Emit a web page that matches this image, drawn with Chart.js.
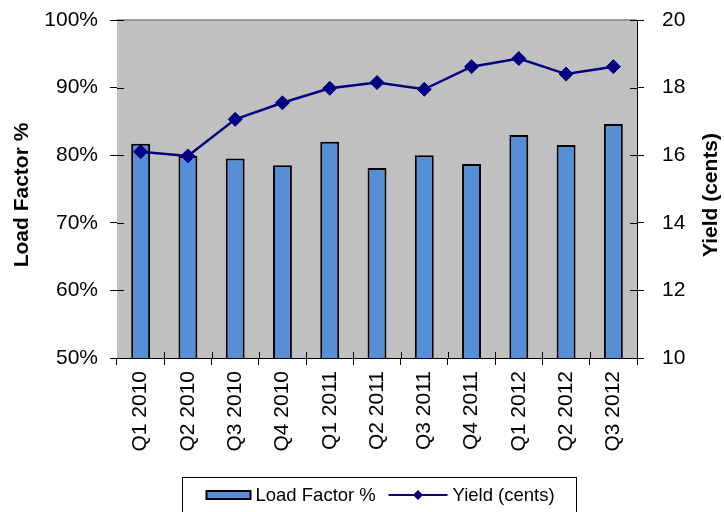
<!DOCTYPE html>
<html>
<head>
<meta charset="utf-8">
<script src="https://cdn.jsdelivr.net/npm/chart.js@4"></script>
<style>
  html, body { margin: 0; padding: 0; background: #fff; }
  #wrap { width: 724px; height: 512px; position: relative; }
</style>
</head>
<body>
<div id="wrap"><canvas id="chart" width="724" height="512"></canvas></div>
<script>
const quarters = ['Q1 2010', 'Q2 2010', 'Q3 2010', 'Q4 2010', 'Q1 2011', 'Q2 2011',
                  'Q3 2011', 'Q4 2011', 'Q1 2012', 'Q2 2012', 'Q3 2012'];
const loadFactor = [81.7, 79.9, 79.5, 78.5, 82.0, 78.1, 80.0, 78.7, 83.0, 81.5, 84.6];
const yieldCents = [16.1, 15.98, 17.06, 17.55, 17.98, 18.15, 17.95, 18.62, 18.86, 18.4, 18.62];

const FONT = '"Liberation Sans", Arial, sans-serif';
const BAR_COLOR = '#568fd6';
const LINE_COLOR = '#000080';

// grey plot area, gray top edge and the inner half of every tick mark
const plotFrame = {
  id: 'plotFrame',
  beforeDatasetsDraw(chart) {
    const { ctx, chartArea: a } = chart;
    ctx.save();
    ctx.fillStyle = '#c0c0c0';
    ctx.fillRect(a.left, a.top, a.right - a.left, a.bottom - a.top);
    ctx.strokeStyle = '#808080';
    ctx.lineWidth = 1.5;
    ctx.beginPath();
    ctx.moveTo(a.left, a.top);
    ctx.lineTo(a.right, a.top);
    ctx.stroke();
    ctx.restore();
  },
  afterDatasetsDraw(chart) {
    const { ctx, chartArea: a, scales } = chart;
    ctx.save();
    ctx.strokeStyle = '#000';
    ctx.lineWidth = 1;
    ctx.beginPath();
    scales.y.ticks.forEach(t => {
      const y = Math.round(scales.y.getPixelForValue(t.value)) + 0.5;
      ctx.moveTo(a.left, y); ctx.lineTo(a.left + 7, y);
    });
    scales.y1.ticks.forEach(t => {
      const y = Math.round(scales.y1.getPixelForValue(t.value)) + 0.5;
      ctx.moveTo(a.right - 7, y); ctx.lineTo(a.right, y);
    });
    const n = quarters.length;
    for (let i = 1; i < n; i++) {
      const x = Math.round((scales.x.getPixelForValue(i - 1) + scales.x.getPixelForValue(i)) / 2) + 0.5;
      ctx.moveTo(x, a.bottom - 6); ctx.lineTo(x, a.bottom);
    }
    ctx.stroke();
    ctx.restore();
  }
};

// both axis titles read bottom-up, plus the boxed legend under the labels
const decorations = {
  id: 'decorations',
  afterDraw(chart) {
    const { ctx, chartArea: a } = chart;
    const midY = (a.top + a.bottom) / 2 + 6;
    ctx.save();
    ctx.fillStyle = '#000';
    ctx.font = 'bold 21px ' + FONT;
    ctx.textAlign = 'center';
    ctx.textBaseline = 'middle';
    [[22, 'Load Factor %'], [711, 'Yield (cents)']].forEach(([x, text]) => {
      ctx.save();
      ctx.translate(x, midY);
      ctx.rotate(-Math.PI / 2);
      ctx.fillText(text, 0, 0);
      ctx.restore();
    });

    // legend box
    const bx = 182.5, by = 477.5, bw = 394, bh = 50;
    ctx.strokeStyle = '#000';
    ctx.lineWidth = 1;
    ctx.strokeRect(bx, by, bw, bh);

    const cy = 495;
    const bar = chart.data.datasets[1];
    const line = chart.data.datasets[0];
    ctx.fillStyle = bar.backgroundColor;
    ctx.fillRect(bx + 24, cy - 4, 44, 8);
    ctx.lineWidth = 2;
    ctx.strokeRect(bx + 24, cy - 4, 44, 8);

    ctx.font = '18.5px ' + FONT;
    ctx.textAlign = 'left';
    ctx.fillStyle = '#000';
    ctx.fillText(bar.label, bx + 73, cy + 1);

    ctx.strokeStyle = line.borderColor;
    ctx.lineWidth = 2;
    ctx.beginPath();
    ctx.moveTo(bx + 206, cy); ctx.lineTo(bx + 265, cy);
    ctx.stroke();
    ctx.fillStyle = line.borderColor;
    ctx.beginPath();
    ctx.moveTo(bx + 235.5, cy - 5); ctx.lineTo(bx + 240.5, cy);
    ctx.lineTo(bx + 235.5, cy + 5); ctx.lineTo(bx + 230.5, cy);
    ctx.closePath();
    ctx.fill();

    ctx.fillStyle = '#000';
    ctx.fillText(line.label, bx + 270, cy + 1);
    ctx.restore();
  }
};

const tickFont = { family: FONT, size: 21 };

// fixed axis box sizes so the plot area lands at the same place every time
function fixWidth(w) {
  return s => { s.width = w; s.paddingTop = 0; s.paddingBottom = 0; };
}

new Chart(document.getElementById('chart'), {
  data: {
    labels: quarters,
    datasets: [
      {
        type: 'line',
        label: 'Yield (cents)',
        data: yieldCents,
        yAxisID: 'y1',
        order: 0,
        borderColor: LINE_COLOR,
        backgroundColor: LINE_COLOR,
        borderWidth: 2.5,
        pointStyle: 'rectRot',
        pointRadius: 7,
        pointHoverRadius: 7,
        pointBorderWidth: 1,
        tension: 0
      },
      {
        type: 'bar',
        label: 'Load Factor %',
        data: loadFactor,
        yAxisID: 'y',
        order: 1,
        backgroundColor: BAR_COLOR,
        borderColor: '#000',
        borderWidth: 2,
        borderSkipped: false,
        barPercentage: 0.4,
        categoryPercentage: 1.0
      }
    ]
  },
  options: {
    responsive: false,
    animation: false,
    layout: { padding: { top: 20, bottom: 0, left: 0, right: 0 } },
    plugins: {
      legend: { display: false },
      tooltip: { enabled: false }
    },
    scales: {
      x: {
        offset: true,
        grid: { offset: true, drawOnChartArea: false, tickLength: 7, color: '#000' },
        border: { color: '#000', width: 1 },
        ticks: { font: tickFont, color: '#000', minRotation: 90, maxRotation: 90, padding: 6, autoSkip: false },
        afterFit(s) { s.height = 154; s.paddingLeft = 0; s.paddingRight = 0; }
      },
      y: {
        position: 'left',
        min: 50,
        max: 100,
        grid: { drawOnChartArea: false, tickLength: 7, color: '#000' },
        border: { color: '#000', width: 1 },
        ticks: { stepSize: 10, font: tickFont, color: '#000', padding: 12, callback: v => v + '%' },
        afterFit: fixWidth(117)
      },
      y1: {
        position: 'right',
        min: 10,
        max: 20,
        grid: { drawOnChartArea: false, tickLength: 7, color: '#000' },
        border: { color: '#000', width: 1 },
        ticks: { stepSize: 2, font: tickFont, color: '#000', padding: 18 },
        afterFit: fixWidth(87)
      }
    }
  },
  plugins: [plotFrame, decorations]
});
</script>
</body>
</html>
